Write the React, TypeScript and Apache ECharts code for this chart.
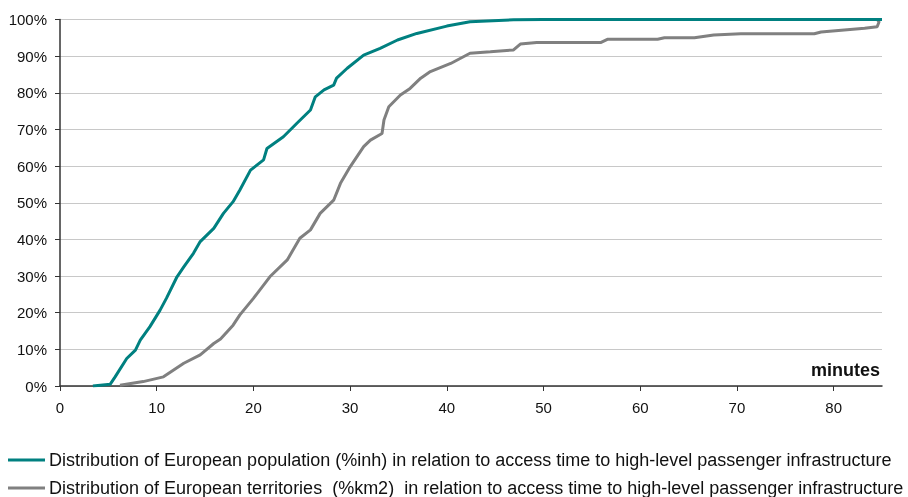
import React, { useEffect, useRef } from "react";
import * as echarts from "echarts";

const populationMinutes = [3.4, 5.2, 5.7, 6.9, 7.8, 8.3, 9.3, 10.35, 11.0, 12.1, 12.8, 13.8, 14.5, 15.9, 16.9, 17.9, 18.6, 19.7, 21.05, 21.4, 23.1, 24.5, 25.9, 26.4, 27.3, 28.3, 28.6, 29.7, 31.4, 33.1, 34.9, 36.9, 40.0, 42.4, 46.9, 50.0, 85];
const populationShare = [0, 0.5, 2.5, 7.5, 9.8, 12.5, 16.2, 20.7, 23.9, 29.8, 32.5, 36.2, 39.4, 43.0, 47.1, 50.3, 53.5, 58.9, 61.7, 64.8, 68.0, 71.7, 75.3, 78.9, 80.8, 82.1, 84.0, 86.7, 90.3, 92.1, 94.4, 96.2, 98.2, 99.4, 99.9, 100, 100];

const territoryMinutes = [6.2, 8.6, 10.7, 12.8, 14.5, 15.9, 16.6, 17.9, 18.6, 20.0, 21.7, 23.5, 24.8, 25.9, 26.9, 28.3, 29.0, 30.0, 31.4, 32.1, 33.3, 33.5, 34.0, 35.2, 36.2, 37.3, 38.3, 40.4, 42.4, 44.5, 46.9, 47.6, 49.3, 55.9, 56.6, 61.8, 62.5, 65.6, 67.6, 70.4, 78.0, 78.7, 83.2, 84.5, 84.7, 84.5, 85];
const territoryShare = [0.2, 1.2, 2.5, 6.2, 8.5, 11.6, 12.8, 16.6, 19.4, 23.9, 29.8, 34.4, 40.3, 42.6, 47.1, 50.7, 55.3, 59.8, 65.3, 67.1, 68.9, 72.6, 76.2, 79.4, 81.2, 84.0, 85.8, 88.0, 90.8, 91.2, 91.7, 93.3, 93.7, 93.7, 94.6, 94.6, 95.0, 95.0, 95.8, 96.1, 96.1, 96.6, 97.6, 98.0, 99.4, 100, 100];

const xTicks = [0, 10, 20, 30, 40, 50, 60, 70, 80];
const yTicks = [0, 10, 20, 30, 40, 50, 60, 70, 80, 90, 100];

const seriesNames = [
  "Distribution of European population (%inh) in relation to access time to high-level passenger infrastructure",
  "Distribution of European territories  (%km2)  in relation to access time to high-level passenger infrastructure",
];
const seriesColors = ["#008080", "#808080"];
const xAxisTitle = "minutes";

export default function App() {
  const ref = useRef<HTMLDivElement>(null);
  useEffect(() => {
    if (!ref.current) return;
    const chart = echarts.init(ref.current, undefined, { renderer: "svg" });
    const font = "'Liberation Sans', Arial, sans-serif";
    const pairs = (xs: number[], ys: number[]) => xs.map((x, i) => [x, ys[i]]);
    const legendBase = {
      orient: "horizontal",
      left: 8,
      padding: 0,
      itemWidth: 37,
      itemHeight: 3,
      itemGap: 0,
      icon: "rect",
      textStyle: { fontSize: 18, color: "#111", fontFamily: font, padding: [0, 0, 0, -1] },
    };
    chart.setOption({
      animation: false,
      textStyle: { fontFamily: font },
      grid: { left: 60, right: 26, top: 19.5, bottom: 111, containLabel: false },
      xAxis: {
        type: "value",
        min: 0,
        max: 85,
        interval: 10,
        axisLine: { show: true, lineStyle: { color: "#333", width: 1.5 } },
        axisTick: { show: true, length: 5, lineStyle: { color: "#333" }, customValues: xTicks },
        axisLabel: { color: "#111", fontSize: 15, margin: 14, customValues: xTicks, fontFamily: font },
        splitLine: { show: false },
      },
      yAxis: {
        type: "value",
        min: 0,
        max: 100,
        interval: 10,
        axisLine: { show: true, lineStyle: { color: "#333", width: 1.5 } },
        axisTick: { show: true, length: 5, lineStyle: { color: "#333" }, customValues: yTicks },
        axisLabel: { color: "#111", fontSize: 15, margin: 13, formatter: "{value}%", customValues: yTicks, fontFamily: font },
        splitLine: { show: true, lineStyle: { color: "#c8c8c8", width: 1 } },
      },
      legend: [
        { ...legendBase, top: 451, data: [seriesNames[0]] },
        { ...legendBase, top: 479, data: [seriesNames[1]] },
      ],
      graphic: [
        {
          type: "text",
          x: 880,
          y: 370,
          style: {
            text: xAxisTitle,
            font: `bold 18px ${font}`,
            fill: "#111",
            align: "right",
            verticalAlign: "middle",
          },
        },
      ],
      series: [
        {
          name: seriesNames[0],
          type: "line",
          data: pairs(populationMinutes, populationShare),
          showSymbol: false,
          lineStyle: { color: seriesColors[0], width: 3 },
          itemStyle: { color: seriesColors[0] },
          z: 3,
        },
        {
          name: seriesNames[1],
          type: "line",
          data: pairs(territoryMinutes, territoryShare),
          showSymbol: false,
          lineStyle: { color: seriesColors[1], width: 3 },
          itemStyle: { color: seriesColors[1] },
          z: 2,
        },
      ],
    });
    return () => chart.dispose();
  }, []);
  return (
    <div
      ref={ref}
      style={{ position: "fixed", left: 0, top: 0, width: 908, height: 497 }}
    />
  );
}
